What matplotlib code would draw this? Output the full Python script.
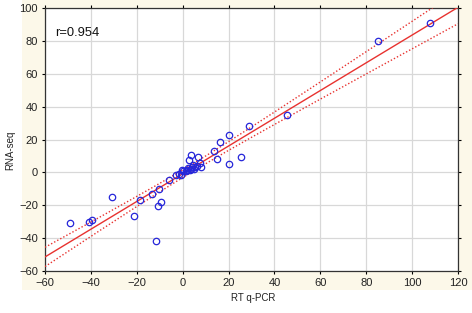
import numpy as np
import matplotlib
matplotlib.use("Agg")
import matplotlib.pyplot as plt
from matplotlib.patches import Rectangle

# values
rt_qpcr = [-49, -41, -39.5, -31, -21, -18.5, -13.2, -10.2, -10.8, -9.4, -11.7,
           -6, -3, -1.8, -0.8, -0.5, 0.2, 1.5, 2.0, 2.5, 3.0, 3.5, 4.0, 4.6,
           5.0, 5.5, 6.3, 2.8, 3.7, 6.8, 8.2, 7.5, 13.6, 14.8, 16.3, 20, 20.3,
           25.3, 28.9, 45.3, 85.3, 107.6]
rna_seq = [-31, -30, -28.8, -15, -26.5, -16.7, -13.3, -9.9, -20.4, -18.1, -42,
           -4.4, -1.9, -0.8, -1.3, 1.6, 1.0, 0.6, 1.6, 2.5, 1.3, 2.2, 3.0, 4.5,
           2.0, 3.2, 4.0, 7.5, 10.6, 9.4, 3.3, 5.5, 13.3, 8.2, 18.5, 23, 4.8,
           9.4, 28.2, 34.9, 79.7, 90.9]
r_label = "r=0.954"

x = np.array(rt_qpcr)
y = np.array(rna_seq)

# least squares line and 95% band for the mean
slope, intercept = np.polyfit(x, y, 1)
n = len(x)
resid = y - (slope * x + intercept)
s = np.sqrt(np.sum(resid ** 2) / (n - 2))
xs = np.linspace(-60, 120, 200)
fit = slope * xs + intercept
se = s * np.sqrt(1 / n + (xs - x.mean()) ** 2 / np.sum((x - x.mean()) ** 2))
band = 2.02 * se

plt.rcParams['font.family'] = ['Liberation Sans', 'DejaVu Sans']

fig = plt.figure(figsize=(4.72, 3.13), dpi=100)
fig.patches.append(Rectangle((22 / 472, 1 - 290 / 313), 1, 1, transform=fig.transFigure,
                             facecolor='#fcf8e9', edgecolor='none', zorder=-10))
ax = fig.add_axes([45 / 472, 1 - 271 / 313, 413 / 472, 263 / 313])
ax.set_facecolor('white')

ax.plot(xs, fit, color='#e8322f', lw=1.0, zorder=3)
ax.plot(xs, fit + band, color='#e8322f', lw=1.0, ls=(0, (1, 1.5)), zorder=3)
ax.plot(xs, fit - band, color='#e8322f', lw=1.0, ls=(0, (1, 1.5)), zorder=3)
ax.plot(x, y, 'o', mfc='none', mec='#2626d9', mew=0.9, ms=4.6, zorder=4)

ax.set_xlim(-60, 120)
ax.set_ylim(-60, 100)
ax.set_xticks(np.arange(-60, 121, 20))
ax.set_yticks(np.arange(-60, 101, 20))
ax.grid(True, color='#d8d8d8', lw=0.9)
ax.set_axisbelow(True)
ax.tick_params(direction='out', length=2.5, width=0.8, labelsize=8,
               labelcolor='#222222', top=True, right=True, pad=2.5)
for sp in ax.spines.values():
    sp.set_color('#333333')
    sp.set_linewidth(0.9)

ax.text(-55.8, 85, r_label, fontsize=9.3, va='center', ha='left', color='#111111')

fig.text(253 / 472, 1 - 298 / 313, "RT q-PCR", fontsize=7, ha='center', va='center', color='#222222')
fig.text(10 / 472, 1 - 150 / 313, "RNA-seq", fontsize=7, ha='center', va='center',
         rotation=90, color='#222222')

fig.savefig("out.png", dpi=100)
